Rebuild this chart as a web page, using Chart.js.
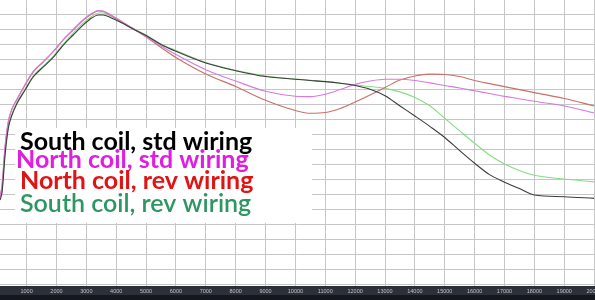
<!DOCTYPE html>
<html>
<head>
<meta charset="utf-8">
<title>Coil wiring response</title>
<script src="https://cdn.jsdelivr.net/npm/chart.js@4.4.1/dist/chart.umd.min.js"></script>
<style>
  body { margin: 0; background: #fff; }
  canvas { display: block; }
</style>
</head>
<body>
<canvas id="responseChart" width="595" height="300"></canvas>
<script>
// frequency (Hz) and level (one grid step per unit)
const freqs = [110, 180, 280, 390, 500, 670, 950, 1220, 1560, 1900,
    2230, 2560, 2900, 3180, 3400, 3570, 3800, 4130, 4570, 5000,
    5500, 6000, 7000, 8000, 9000, 10000, 10500, 11000, 11500, 12000,
    12500, 13000, 13500, 14000, 14500, 15000, 15500, 16000, 16500, 17000,
    17500, 18000, 19000, 20000];

const southStd = [5.6, 6.13, 8.6, 10.4, 11.2, 12.0, 12.93, 13.8, 14.47, 15.13,
    15.93, 16.6, 17.27, 17.73, 17.93, 17.93, 17.77, 17.47, 17.0, 16.57,
    15.97, 15.51, 14.73, 14.22, 13.83, 13.65, 13.57, 13.49, 13.38, 13.23,
    12.98, 12.55, 11.87, 11.2, 10.51, 9.77, 8.89, 8.05, 7.29, 6.79,
    6.36, 5.93, 5.82, 5.71];

const northStd = [5.8, 6.6, 9.2, 10.87, 11.63, 12.3, 13.3, 14.17, 14.83, 15.53,
    16.3, 16.97, 17.63, 18.03, 18.23, 18.2, 17.97, 17.57, 17.03, 16.5,
    15.87, 15.3, 14.29, 13.53, 12.85, 12.52, 12.49, 12.65, 12.97, 13.31,
    13.53, 13.65, 13.65, 13.57, 13.41, 13.23, 13.07, 12.88, 12.7, 12.51,
    12.35, 12.18, 11.87, 11.4];

const northRev = [5.8, 6.6, 9.13, 10.8, 11.6, 12.27, 13.27, 14.13, 14.8, 15.5,
    16.27, 16.93, 17.6, 18.0, 18.2, 18.17, 17.93, 17.53, 17.0, 16.47,
    15.77, 15.1, 14.0, 13.17, 12.25, 11.57, 11.38, 11.43, 11.7, 12.13,
    12.6, 13.1, 13.6, 13.87, 13.99, 13.97, 13.83, 13.57, 13.36, 13.16,
    12.96, 12.76, 12.37, 11.87];

const southRev = [5.8, 6.27, 8.73, 10.47, 11.27, 12.07, 13.0, 13.87, 14.53, 15.2,
    16.0, 16.73, 17.4, 17.83, 18.07, 18.07, 17.87, 17.53, 17.03, 16.6,
    16.0, 15.57, 14.77, 14.25, 13.87, 13.67, 13.58, 13.5, 13.4, 13.27,
    13.17, 13.04, 12.81, 12.44, 11.88, 11.05, 10.21, 9.38, 8.6, 8.0,
    7.57, 7.25, 7.0, 6.81];

const seriesNames = ["South coil, std wiring", "North coil, std wiring",
    "North coil, rev wiring", "South coil, rev wiring"];

const xTicks = [1000, 2000, 3000, 4000, 5000, 6000, 7000, 8000, 9000, 10000,
    11000, 12000, 13000, 14000, 15000, 16000, 17000, 18000, 19000, 20000];

function toPoints(values) {
    return values.map((v, i) => ({ x: freqs[i], y: v }));
}

// dark strip behind the frequency labels
const axisBand = {
    id: "axisBand",
    beforeDraw(chart) {
        const ctx = chart.ctx;
        const top = chart.chartArea.bottom;
        ctx.save();
        ctx.fillStyle = "#2c303b";
        ctx.fillRect(0, top, chart.width, chart.height - top);
        ctx.fillStyle = "#14171e";
        ctx.fillRect(0, top + 9, chart.width, chart.height - top - 9);
        ctx.restore();
    }
};

// big coloured labels on a white patch, like the pasted-in caption
const textLegend = {
    id: "textLegend",
    beforeDatasetsDraw(chart) {
        const ctx = chart.ctx;
        ctx.save();
        ctx.fillStyle = "#fff";
        ctx.fillRect(15, 128, 297, 95);
        ctx.restore();
    },
    afterDatasetsDraw(chart) {
        const ctx = chart.ctx;
        const rows = [
            { x: 20, y: 150, font: "bold 25px Lato" },
            { x: 16, y: 168, font: "bold 25px Lato" },
            { x: 20, y: 189, font: "bold 25px Lato" },
            { x: 20, y: 212, font: "600 25px Lato" },
        ];
        ctx.save();
        ctx.textBaseline = "alphabetic";
        chart.data.datasets.forEach((ds, i) => {
            ctx.font = rows[i].font;
            ctx.fillStyle = ds.textColor;
            ctx.fillText(ds.label, rows[i].x, rows[i].y);
        });
        ctx.restore();
    }
};

const ctx = document.getElementById("responseChart").getContext("2d");
const responseChart = new Chart(ctx, {
    type: "line",
    data: {
        datasets: [
            { label: seriesNames[0], data: toPoints(southStd), borderColor: "#3c3c3c", textColor: "#000000" },
            { label: seriesNames[1], data: toPoints(northStd), borderColor: "#d67ade", textColor: "#e01ee0" },
            { label: seriesNames[2], data: toPoints(northRev), borderColor: "#c8706a", textColor: "#e01414" },
            { label: seriesNames[3], data: toPoints(southRev), borderColor: "#86dc86", textColor: "#2e9662" },
        ],
    },
    options: {
        responsive: false,
        animation: false,
        events: [],
        layout: { padding: 0 },
        elements: {
            line: { borderWidth: 1.1, cubicInterpolationMode: "monotone" },
            point: { radius: 0 },
        },
        plugins: {
            legend: { display: false },
            tooltip: { enabled: false },
        },
        scales: {
            x: {
                type: "linear",
                min: 110,
                max: 20030,
                afterBuildTicks: (s) => { s.ticks = xTicks.map((v) => ({ value: v })); },
                afterFit: (s) => { s.height = 14; s.paddingLeft = 0; s.paddingRight = 0; },
                grid: { color: "#c6c6c6", drawTicks: false },
                border: { display: false },
                ticks: {
                    autoSkip: false,
                    maxRotation: 0,
                    padding: 2.5,
                    color: "#c4c4c4",
                    font: { family: "Liberation Sans", size: 5.5 },
                    callback: (v) => String(v),
                },
            },
            y: {
                type: "linear",
                min: -2 / 15,
                max: 18 + 14 / 15,
                afterBuildTicks: (s) => {
                    s.ticks = s.ticks.filter((t) => Math.abs(t.value - Math.round(t.value)) < 1e-6);
                },
                ticks: { display: false, stepSize: 1, includeBounds: false },
                grid: { color: "#c6c6c6", drawTicks: false },
                border: { display: false },
            },
        },
    },
    plugins: [axisBand, textLegend],
});
</script>
</body>
</html>
